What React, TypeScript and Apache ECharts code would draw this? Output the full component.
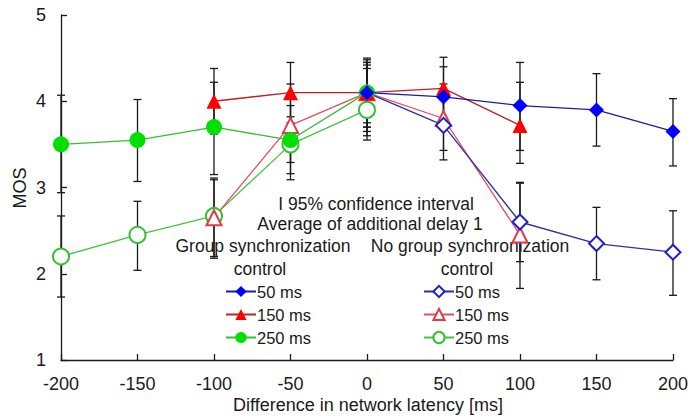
import React, { useEffect, useRef } from "react";
import * as echarts from "echarts";

const xValues = [-200, -150, -100, -50, 0, 50, 100, 150, 200];
const xTicks = ["-200", "-150", "-100", "-50", "0", "50", "100", "150", "200"];
const yTicks = ["1", "2", "3", "4", "5"];

// Group synchronization control
const gs50 = [null, null, null, null, 4.1, 4.05, 3.95, 3.9, 3.65];
const gs50Lo = [null, null, null, null, 3.7, 3.7, 3.43, 3.48, 3.25];
const gs50Hi = [null, null, null, null, 4.48, 4.4, 4.45, 4.32, 4.03];

const gs150 = [null, null, 4.0, 4.1, 4.1, 4.15, 3.72, null, null];
const gs150Lo = [null, null, 3.62, 3.75, 3.7, 3.8, 3.28, null, null];
const gs150Hi = [null, null, 4.38, 4.45, 4.5, 4.51, 4.22, null, null];

const gs250 = [3.5, 3.55, 3.7, 3.55, 4.1, null, null, null, null];
const gs250Lo = [2.94, 3.07, 3.15, 3.29, 3.75, null, null, null, null];
const gs250Hi = [4.07, 4.02, 4.22, 3.82, 4.45, null, null, null, null];

// No group synchronization control
const ngs50 = [null, null, null, null, 4.1, 3.72, 2.6, 2.35, 2.25];
const ngs50Lo = [null, null, null, null, 3.65, 3.32, 2.14, 1.93, 1.75];
const ngs50Hi = [null, null, null, null, 4.42, 4.1, 3.06, 2.77, 2.73];

const ngs150 = [null, null, 2.65, 3.72, 4.1, 3.8, 2.45, null, null];
const ngs150Lo = [null, null, 2.18, 3.16, 3.6, 3.43, 1.83, null, null];
const ngs150Hi = [null, null, 3.11, 4.2, 4.45, 4.2, 3.05, null, null];

const ngs250 = [2.2, 2.45, 2.67, 3.5, 3.9, null, null, null, null];
const ngs250Lo = [1.73, 2.04, 2.2, 3.09, 3.55, null, null, null, null];
const ngs250Hi = [2.67, 2.84, 3.09, 3.95, 4.38, null, null, null, null];

const FONT = "Liberation Sans, Arial, sans-serif";

function pts(v: (number | null)[]) {
  const out: number[][] = [];
  v.forEach((y, i) => {
    if (y != null) out.push([xValues[i], y]);
  });
  return out;
}

function bars(lo: (number | null)[], hi: (number | null)[]) {
  const out: number[][] = [];
  lo.forEach((l, i) => {
    const h = hi[i];
    if (l != null && h != null) out.push([xValues[i], l, h]);
  });
  return out;
}

function errSeries(lo: (number | null)[], hi: (number | null)[]) {
  return {
    type: "custom",
    z: 1,
    silent: true,
    encode: { x: 0, y: [1, 2] },
    data: bars(lo, hi),
    renderItem: (params: any, api: any) => {
      const x = api.value(0);
      const p1 = api.coord([x, api.value(1)]);
      const p2 = api.coord([x, api.value(2)]);
      const w = 4;
      const st = { stroke: "#1a1a1a", lineWidth: 1.3 };
      return {
        type: "group",
        children: [
          { type: "line", shape: { x1: p1[0], y1: p1[1], x2: p2[0], y2: p2[1] }, style: st },
          { type: "line", shape: { x1: p1[0] - w, y1: p1[1], x2: p1[0] + w, y2: p1[1] }, style: st },
          { type: "line", shape: { x1: p2[0] - w, y1: p2[1], x2: p2[0] + w, y2: p2[1] }, style: st },
        ],
      };
    },
  };
}

function lineSeries(name: string, v: (number | null)[], symbol: string, size: number, lineColor: string, markColor: string) {
  return {
    type: "line",
    name,
    z: 3,
    data: pts(v),
    symbol,
    symbolSize: size,
    lineStyle: { color: lineColor, width: 1.3 },
    itemStyle: { color: markColor, borderColor: markColor, borderWidth: symbol.startsWith("empty") ? 1.4 : 0 },
    emphasis: { disabled: true },
  };
}

function label(text: string, x: number, y: number, size: number, extra: any = {}) {
  return {
    type: "text",
    x,
    y,
    ...extra,
    style: { text, font: `${size}px ${FONT}`, fill: "#1a1a1a", align: "center", verticalAlign: "middle" },
  };
}

export default function App() {
  const ref = useRef<HTMLDivElement>(null);
  useEffect(() => {
    if (!ref.current) return;
    const chart = echarts.init(ref.current, undefined, { renderer: "svg" });
    const legendCommon = {
      orient: "vertical",
      itemGap: 6,
      itemWidth: 30,
      itemHeight: 14,
      selectedMode: false,
      formatter: (n: string) => n.split("|")[1],
      textStyle: { fontFamily: FONT, fontSize: 16.5, color: "#1a1a1a", padding: [0, 0, 0, -4] },
    };
    chart.setOption({
      animation: false,
      backgroundColor: "#ffffff",
      grid: { left: 61, right: 16, top: 15, bottom: 58 },
      xAxis: {
        type: "value",
        min: -200,
        max: 200,
        interval: 50,
        splitLine: { show: false },
        axisLine: { onZero: false, lineStyle: { color: "#1a1a1a", width: 1.3 } },
        axisTick: { inside: true, length: 6, lineStyle: { color: "#1a1a1a", width: 1.3 } },
        axisLabel: {
          margin: 15,
          fontFamily: FONT,
          fontSize: 18,
          color: "#1a1a1a",
          formatter: (v: number) => xTicks[xValues.indexOf(v)] ?? String(v),
        },
      },
      yAxis: {
        type: "value",
        min: 1,
        max: 5,
        interval: 1,
        splitLine: { show: false },
        axisLine: { show: true, onZero: false, lineStyle: { color: "#1a1a1a", width: 1.3 } },
        axisTick: { show: true, inside: true, length: 6, lineStyle: { color: "#1a1a1a", width: 1.3 } },
        axisLabel: {
          margin: 15,
          fontFamily: FONT,
          fontSize: 18,
          color: "#1a1a1a",
          formatter: (v: number) => yTicks[v - 1] ?? String(v),
        },
      },
      legend: [
        { ...legendCommon, left: 220, top: 278, data: ["gs|50 ms", "gs|150 ms", "gs|250 ms"] },
        { ...legendCommon, left: 418, top: 278, data: ["ngs|50 ms", "ngs|150 ms", "ngs|250 ms"] },
      ],
      graphic: [
        label("I 95% confidence interval", 376, 204, 17.5),
        label("Average of additional delay 1", 370, 224, 17.5),
        label("Group synchronization", 263, 246, 17.5),
        label("No group synchronization", 470, 246, 17.5),
        label("control", 260, 269, 17.5),
        label("control", 467, 269, 17.5),
        label("Difference in network latency [ms]", 368, 405, 18),
        label("MOS", 20, 188, 18, { rotation: Math.PI / 2 }),
      ],
      series: [
        errSeries(gs250Lo, gs250Hi),
        errSeries(gs150Lo, gs150Hi),
        errSeries(gs50Lo, gs50Hi),
        errSeries(ngs250Lo, ngs250Hi),
        errSeries(ngs150Lo, ngs150Hi),
        errSeries(ngs50Lo, ngs50Hi),
        lineSeries("ngs|250 ms", ngs250, "emptyCircle", 16, "#44c444", "#33c033"),
        lineSeries("ngs|150 ms", ngs150, "emptyTriangle", 15, "#e05060", "#e03a4a"),
        lineSeries("ngs|50 ms", ngs50, "emptyDiamond", 15, "#3030a0", "#2020c0"),
        lineSeries("gs|250 ms", gs250, "circle", 16, "#33c033", "#00e000"),
        lineSeries("gs|150 ms", gs150, "triangle", 15, "#c02020", "#ff0000"),
        lineSeries("gs|50 ms", gs50, "diamond", 15, "#1c1ca0", "#0000ff"),
      ],
    });
    return () => chart.dispose();
  }, []);
  return <div ref={ref} style={{ width: 691, height: 418, position: "absolute", left: 0, top: 0 }} />;
}
